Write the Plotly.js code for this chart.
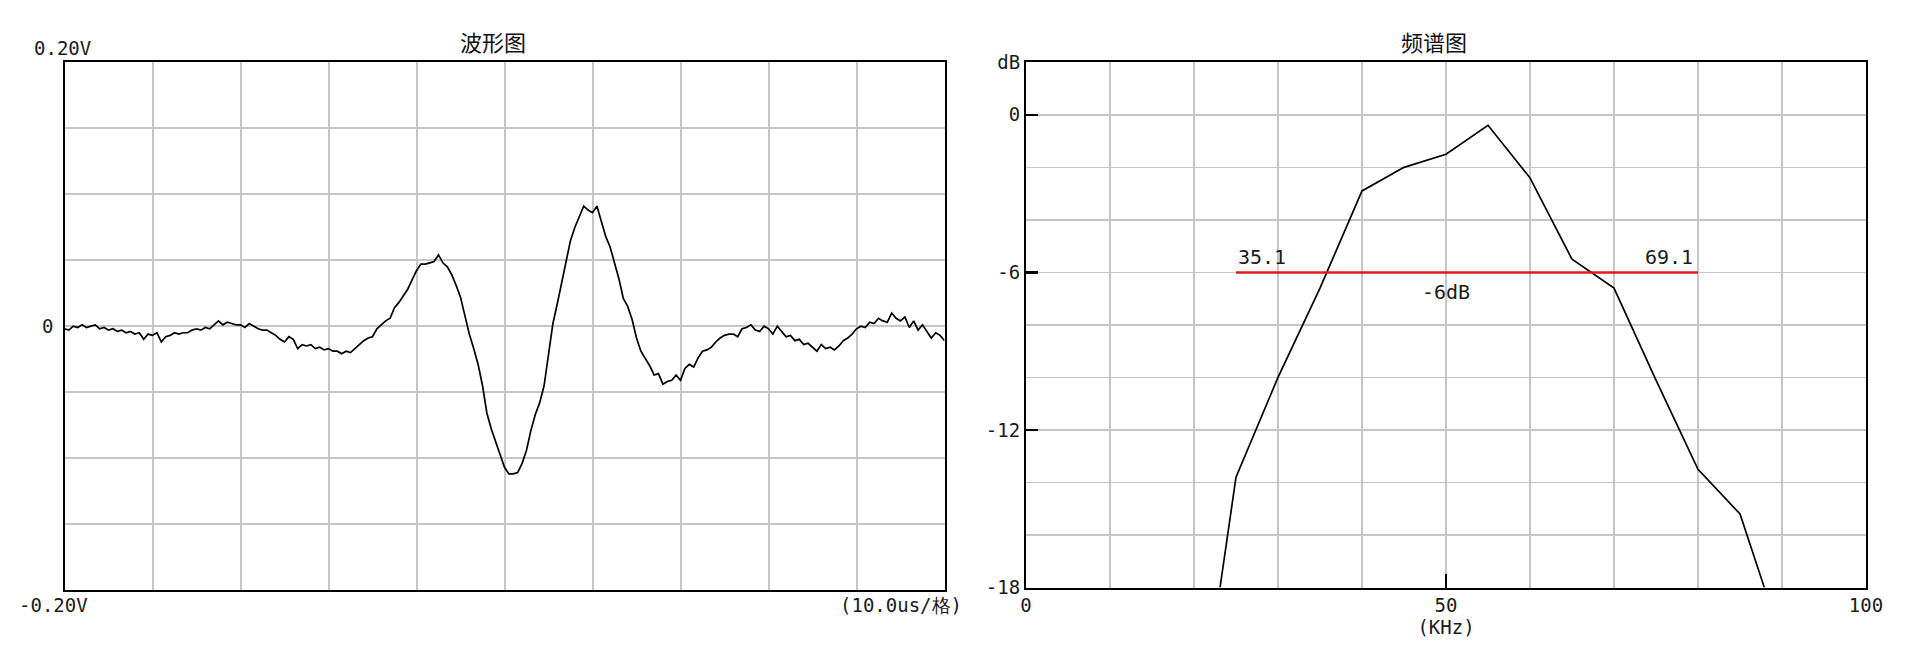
<!DOCTYPE html>
<html>
<head>
<meta charset="utf-8">
<script src="https://cdn.plot.ly/plotly-3.0.1.min.js"></script>
<style>
  html, body { margin: 0; padding: 0; background: #ffffff; }
  #chart { width: 1914px; height: 645px; }
</style>
</head>
<body>
<div id="chart"></div>
<script>
// ---------- Waveform (波形图) ----------
const waveStartUs = 0;      // first sample time (us)
const waveStepUs = 0.5;     // sample interval (us)
const waveVolts = [
  -0.002, -0.003, 0.000, -0.001, 0.001, -0.001, 0.000, 0.001, -0.002, -0.001,
  -0.003, -0.002, -0.004, -0.003, -0.005, -0.004, -0.006, -0.005, -0.010, -0.006,
  -0.007, -0.005, -0.012, -0.008, -0.007, -0.005, -0.006, -0.005, -0.005, -0.003,
  -0.002, -0.003, -0.001, -0.002, 0.001, 0.004, 0.001, 0.003, 0.002, 0.001,
  0.001, -0.001, 0.002, 0.000, -0.002, -0.003, -0.003, -0.005, -0.007, -0.010,
  -0.012, -0.008, -0.010, -0.017, -0.014, -0.015, -0.014, -0.017, -0.016, -0.018,
  -0.017, -0.019, -0.019, -0.021, -0.019, -0.020, -0.017, -0.014, -0.011, -0.009,
  -0.008, -0.002, 0.001, 0.004, 0.006, 0.014, 0.018, 0.023, 0.028, 0.035,
  0.042, 0.047, 0.047, 0.048, 0.049, 0.054, 0.048, 0.045, 0.039, 0.031,
  0.022, 0.008, -0.006, -0.017, -0.029, -0.045, -0.066, -0.078, -0.088, -0.097,
  -0.107, -0.112, -0.112, -0.111, -0.104, -0.094, -0.079, -0.067, -0.058, -0.045,
  -0.021, 0.002, 0.017, 0.033, 0.050, 0.065, 0.075, 0.083, 0.091, 0.088,
  0.086, 0.091, 0.080, 0.068, 0.060, 0.048, 0.036, 0.021, 0.015, 0.005,
  -0.009, -0.019, -0.024, -0.030, -0.037, -0.036, -0.044, -0.042, -0.041, -0.037,
  -0.041, -0.032, -0.029, -0.031, -0.024, -0.019, -0.018, -0.016, -0.012, -0.009,
  -0.007, -0.006, -0.006, -0.008, -0.002, -0.001, 0.001, -0.003, -0.004, 0.000,
  -0.002, -0.006, 0.000, -0.004, -0.008, -0.007, -0.011, -0.010, -0.014, -0.013,
  -0.016, -0.019, -0.014, -0.017, -0.016, -0.018, -0.015, -0.011, -0.009, -0.006,
  -0.002, 0.000, -0.001, 0.003, 0.002, 0.006, 0.004, 0.003, 0.010, 0.006,
  0.004, 0.007, -0.001, 0.004, -0.003, 0.001, -0.004, -0.009, -0.005, -0.007,
  -0.011
];
const waveTitle = "波形图";
const waveTopLabel = "0.20V";
const waveBottomLabel = "-0.20V";
const waveZeroLabel = "0";
const waveScaleLabel = "(10.0us/格)";

// ---------- Spectrum (频谱图) ----------
const specFreqKHz = [23.1, 25, 30, 35, 40, 45, 50, 55, 60, 65, 70, 75, 80, 85, 87.9];
const specDb      = [-18, -13.8, -10.0, -6.6, -2.9, -2.0, -1.5, -0.4, -2.4, -5.5, -6.6, -10.1, -13.5, -15.2, -18];
const specTitle = "频谱图";
const specYTickVals = [2, 0, -6, -12, -18];
const specYTickText = ["dB", "0", "-6", "-12", "-18"];
const specXTickVals = [0, 50, 100];
const specXTickText = ["0", "50", "100"];
const specXTitle = "(KHz)";
const bandLevelDb = -6;
const bandFromKHz = 25;
const bandToKHz = 80;
const bandLowLabel = "35.1";
const bandHighLabel = "69.1";
const bandLevelLabel = "-6dB";

// ---------- Layout helpers ----------
const W = 1914, H = 645;
const px = v => v / W;
const py = v => (H - v) / H;
const gridColor = "#c6c6c6";
const monoFont = { family: "DejaVu Sans Mono, monospace", size: 19, color: "#1a1a1a" };
const bandFont = { family: "DejaVu Sans Mono, monospace", size: 20, color: "#1a1a1a" };
const cjkFont = { family: "Noto Sans CJK SC, sans-serif", size: 22, color: "#111111" };

const traces = [
  {
    type: "scatter", mode: "lines",
    x0: waveStartUs, dx: waveStepUs, y: waveVolts,
    xaxis: "x", yaxis: "y",
    line: { color: "#000000", width: 1.7 },
    hoverinfo: "skip"
  },
  {
    type: "scatter", mode: "lines",
    x: specFreqKHz, y: specDb,
    xaxis: "x2", yaxis: "y2",
    line: { color: "#000000", width: 1.7 },
    hoverinfo: "skip"
  },
  {
    type: "scatter", mode: "lines",
    x: [bandFromKHz, bandToKHz], y: [bandLevelDb, bandLevelDb],
    xaxis: "x2", yaxis: "y2",
    line: { color: "#e01a1a", width: 2.5 },
    hoverinfo: "skip"
  }
];

const axisFrame = {
  showline: true, linecolor: "#000000", linewidth: 2, mirror: true,
  zeroline: false, showgrid: true, gridcolor: gridColor, gridwidth: 2,
  fixedrange: true
};

const layout = {
  width: W, height: H,
  margin: { l: 0, r: 0, t: 0, b: 0, pad: 0 },
  paper_bgcolor: "#ffffff", plot_bgcolor: "#ffffff",
  showlegend: false,
  xaxis: Object.assign({}, axisFrame, {
    domain: [px(64.5), px(944.5)], range: [0, 100],
    tickmode: "linear", tick0: 0, dtick: 10,
    showticklabels: false, ticks: "", anchor: "y"
  }),
  yaxis: Object.assign({}, axisFrame, {
    domain: [py(590), py(62.3)], range: [-0.2, 0.2],
    tickmode: "linear", tick0: 0, dtick: 0.05,
    showticklabels: false, ticks: "", anchor: "x"
  }),
  xaxis2: Object.assign({}, axisFrame, {
    domain: [px(1026), px(1866)], range: [0, 100],
    tickmode: "array", tickvals: specXTickVals, ticktext: specXTickText,
    ticks: "inside", ticklen: 14, tickwidth: 2, tickcolor: "#000000",
    tickfont: monoFont, gridwidth: 1.5,
    minor: { tickmode: "linear", tick0: 0, dtick: 10, showgrid: true, gridcolor: gridColor, gridwidth: 1.5, ticks: "" },
    title: { text: specXTitle, font: monoFont, standoff: 0 },
    anchor: "y2"
  }),
  yaxis2: Object.assign({}, axisFrame, {
    domain: [py(587.5), py(62.3)], range: [-18, 2],
    tickmode: "array", tickvals: specYTickVals, ticktext: specYTickText,
    ticks: "inside", ticklen: 12, tickwidth: 2.5, tickcolor: "#000000",
    tickfont: monoFont, gridwidth: 1.5,
    minor: { tickmode: "linear", tick0: 0, dtick: 2, showgrid: true, gridcolor: gridColor, gridwidth: 1.5, ticks: "" },
    anchor: "x2"
  }),
  annotations: [
    { xref: "x domain", yref: "y domain", x: 0.5, y: 1, xanchor: "center", yanchor: "bottom",
      xshift: -12, yshift: 3, text: waveTitle, showarrow: false, font: cjkFont },
    { xref: "x2 domain", yref: "y2 domain", x: 0.5, y: 1, xanchor: "center", yanchor: "bottom",
      xshift: -12, yshift: 3, text: specTitle, showarrow: false, font: cjkFont },
    { xref: "x", yref: "y", x: 0, y: 0.2, xanchor: "center", yanchor: "bottom",
      xshift: -2, yshift: 1, text: waveTopLabel, showarrow: false, font: monoFont },
    { xref: "x", yref: "y", x: 0, y: -0.2, xanchor: "center", yanchor: "top",
      xshift: -11, yshift: -2, text: waveBottomLabel, showarrow: false, font: monoFont },
    { xref: "x", yref: "y", x: 0, y: 0, xanchor: "right", yanchor: "middle",
      xshift: -10, text: waveZeroLabel, showarrow: false, font: monoFont },
    { xref: "x", yref: "y", x: 100, y: -0.2, xanchor: "right", yanchor: "top",
      xshift: 19, yshift: -2, text: waveScaleLabel, showarrow: false, font: monoFont },
    { xref: "x2", yref: "y2", x: bandFromKHz, y: bandLevelDb, xanchor: "left", yanchor: "bottom",
      yshift: 1, text: bandLowLabel, showarrow: false, font: bandFont },
    { xref: "x2", yref: "y2", x: bandToKHz, y: bandLevelDb, xanchor: "right", yanchor: "bottom",
      xshift: -3, yshift: 1, text: bandHighLabel, showarrow: false, font: bandFont },
    { xref: "x2", yref: "y2", x: 50, y: bandLevelDb, xanchor: "center", yanchor: "top",
      yshift: -6, text: bandLevelLabel, showarrow: false, font: bandFont }
  ]
};

Plotly.newPlot("chart", traces, layout, { staticPlot: true, displayModeBar: false });
</script>
</body>
</html>
